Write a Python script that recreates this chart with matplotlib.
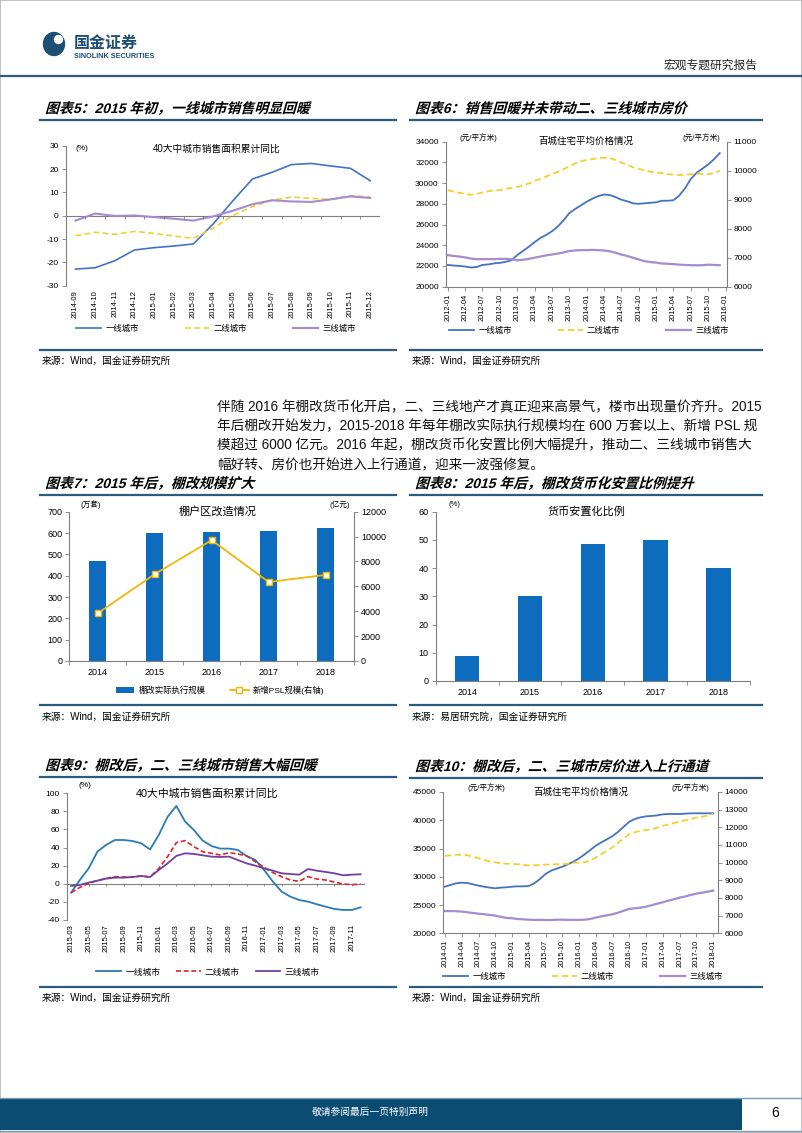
import numpy as np
import pandas as pd
import matplotlib
matplotlib.use('Agg')
import matplotlib.pyplot as plt
from matplotlib import patheffects
from matplotlib.transforms import Affine2D
from matplotlib.lines import Line2D
from matplotlib.patches import Rectangle, Ellipse

plt.rcParams['font.family'] = ['Liberation Sans', 'Noto Sans CJK SC']
plt.rcParams['axes.unicode_minus'] = False

# ---------------- data ----------------
tiers = ['一线城市', '二线城市', '三线城市']

# 图表5 40大中城市销售面积累计同比 (%)
c5_months = ['2014-09', '2014-10', '2014-11', '2014-12', '2015-01', '2015-02', '2015-03', '2015-04',
             '2015-05', '2015-06', '2015-07', '2015-08', '2015-09', '2015-10', '2015-11', '2015-12']
c5_t1 = [-22.9, -22.3, -19.3, -14.7, -13.7, -13.0, -12.1, -3.6, 6.3, 15.7, 18.6, 21.9, 22.4, 21.3, 20.3, 15.0]
c5_t2 = [-8.6, -7.1, -8.0, -6.7, -7.6, -8.7, -9.7, -5.4, 0.0, 3.9, 6.6, 8.0, 7.4, 7.0, 8.6, 8.0]
c5_t3 = [-2.1, 0.9, -0.1, 0.1, -0.6, -1.3, -2.1, -0.3, 2.1, 4.9, 6.6, 6.1, 5.9, 7.0, 8.3, 7.6]

# 图表6 百城住宅平均价格 2012-01 .. 2015-12 (元/平方米)
c6_t1 = [22100, 22050, 22000, 21950, 21850, 21900, 22100, 22150, 22250, 22300, 22400, 22550,
         23050, 23450, 23850, 24300, 24700, 25000, 25350, 25800, 26400, 27100, 27500, 27850,
         28200, 28500, 28750, 28900, 28850, 28650, 28400, 28250, 28050, 28000, 28050, 28100,
         28150, 28300, 28300, 28350, 28800, 29500, 30400, 31000, 31400, 31800, 32300, 32900]
c6_t2 = [9330, 9280, 9240, 9200, 9170, 9200, 9250, 9290, 9320, 9330, 9370, 9410,
         9440, 9490, 9560, 9640, 9720, 9800, 9880, 9960, 10050, 10150, 10250, 10330,
         10370, 10400, 10430, 10450, 10430, 10370, 10280, 10200, 10120, 10060, 10010, 9970,
         9940, 9920, 9880, 9860, 9850, 9860, 9880, 9900, 9890, 9880, 9920, 9990]
c6_t3 = [7090, 7060, 7040, 7010, 6970, 6950, 6950, 6950, 6950, 6960, 6960, 6950,
         6910, 6930, 6960, 7000, 7040, 7080, 7110, 7140, 7180, 7230, 7250, 7260,
         7260, 7270, 7260, 7250, 7220, 7170, 7110, 7060, 7000, 6940, 6880, 6850,
         6830, 6800, 6790, 6780, 6760, 6750, 6740, 6740, 6740, 6760, 6750, 6740]

# 图表7 棚户区改造情况
years = ['2014', '2015', '2016', '2017', '2018']
c7_units = [470, 600, 605, 608, 625]        # 万套
c7_psl = [3831, 6981, 9714, 6350, 6919]     # 亿元

# 图表8 货币安置化比例 (%)
c8_ratio = [9, 30, 48.5, 50, 40]

# 图表9 40大中城市销售面积累计同比 2015-03 .. 2017-12 (%)
c9_t1 = [-9.8, 4.2, 17.0, 35.5, 43.0, 48.4, 48.4, 47.3, 44.7, 38.0, 54.0, 74.0,
         86.0, 68.7, 59.4, 47.7, 41.8, 38.9, 38.9, 37.4, 30.8, 26.3, 15.3, 2.4,
         -8.7, -14.2, -17.9, -19.7, -22.6, -25.2, -27.8, -28.9, -28.9, -26.0]
c9_t2 = [-9.8, -4.0, 0.5, 3.5, 6.0, 7.9, 7.5, 7.5, 8.6, 7.5, 17.0, 30.0,
         45.5, 47.7, 41.0, 35.5, 33.7, 31.8, 34.4, 33.0, 30.8, 24.5, 18.2, 12.3,
         7.9, 4.2, 2.7, 7.9, 5.3, 4.2, 2.0, -0.2, -1.0, -0.2]
c9_t3 = [-2.4, -1.3, 1.3, 3.5, 5.7, 6.8, 6.8, 7.5, 8.6, 7.5, 15.3, 22.6,
         30.8, 33.7, 33.0, 31.5, 30.0, 29.6, 30.0, 26.3, 22.6, 20.0, 17.1, 14.5,
         11.6, 10.8, 10.1, 16.3, 14.5, 13.1, 11.6, 9.4, 10.1, 10.5]

# 图表10 百城住宅平均价格 2014-01 .. 2018-01 (元/平方米)
c10_t1 = [28250, 28550, 28850, 28960, 28900, 28670, 28430, 28250, 28080, 27960, 28080, 28140,
          28250, 28310, 28310, 28370, 28850, 29610, 30500, 31090, 31440, 31790, 32200, 32680,
          33270, 33970, 34740, 35500, 36100, 36630, 37220, 37980, 38870, 39750, 40230, 40520,
          40700, 40760, 40870, 41050, 41110, 41110, 41110, 41170, 41230, 41230, 41230, 41230, 41230]
c10_t2 = [10380, 10420, 10450, 10450, 10420, 10340, 10250, 10150, 10080, 10020, 9960, 9940,
          9930, 9910, 9870, 9850, 9850, 9870, 9890, 9900, 9910, 9910, 9940, 10000,
          10000, 10020, 10110, 10300, 10490, 10680, 10870, 11130, 11380, 11620, 11720, 11810,
          11850, 11890, 11980, 12080, 12170, 12250, 12320, 12400, 12470, 12550, 12600, 12660, 12760]
c10_t3 = [7260, 7260, 7250, 7230, 7190, 7150, 7110, 7080, 7040, 7000, 6930, 6870,
          6850, 6810, 6790, 6770, 6760, 6760, 6750, 6750, 6770, 6770, 6760, 6760,
          6760, 6770, 6810, 6890, 6960, 7020, 7080, 7170, 7280, 7380, 7420, 7450,
          7510, 7590, 7680, 7760, 7850, 7930, 8020, 8090, 8170, 8250, 8300, 8360, 8420]

c6_labels = [str(p) for p in pd.period_range('2012-01', '2016-01', freq='3M')]
c9_labels = [str(p) for p in pd.period_range('2015-03', '2017-12', freq='M')]
c10_labels = [str(p) for p in pd.period_range('2014-01', '2018-01', freq='3M')]

# ---------------- helpers ----------------
W, H = 802, 1133
fig = plt.figure(figsize=(W / 100, H / 100), dpi=100)

NAVY = '#2d5b7c'
GRAY = '#7f7f7f'
BLUE = '#4472c4'
YEL = '#f5cf2a'
PUR = '#a58bd0'
BAR = '#0e6cbf'


def fx(x):
    return x / W


def fy(y):
    return 1 - y / H


def add_ax(l, t, r, b):
    return fig.add_axes([fx(l), fy(b), (r - l) / W, (b - t) / H])


def ftext(x, y, s, **kw):
    kw.setdefault('va', 'center')
    return fig.text(fx(x), fy(y), s, **kw)


def hline(x0, x1, y, color=NAVY, lw=1.5):
    fig.add_artist(Line2D([fx(x0), fx(x1)], [fy(y), fy(y)], color=color, lw=lw))


class Italic(patheffects.AbstractPathEffect):
    # slant glyph outlines around their baseline (CJK fonts have no italic face)
    def draw_path(self, renderer, gc, tpath, affine, rgbFace=None):
        x0, y0 = affine.transform((0, 0))
        sk = Affine2D().translate(-x0, -y0).skew_deg(16, 0).translate(x0, y0)
        renderer.draw_path(gc, tpath, affine + sk, rgbFace)


def style(ax, right=False, size=6):
    ax.spines['top'].set_visible(False)
    ax.spines['right'].set_visible(right)
    for s in ax.spines.values():
        s.set_color(GRAY)
        s.set_linewidth(0.8)
    ax.tick_params(length=3, width=0.6, color=GRAY, labelsize=size, pad=2)
    ax.set_facecolor('none')


def legend(ax, handles, cx, cy, **kw):
    opts = dict(loc='center', bbox_to_anchor=(fx(cx), fy(cy)), bbox_transform=fig.transFigure,
                ncol=len(handles), frameon=False, fontsize=6, handlelength=3,
                handletextpad=0.5, columnspacing=5.5, borderpad=0)
    opts.update(kw)
    ax.legend(handles=handles, **opts)


def panel(x0, x1, ytitle, title, yline, ysrc, src):
    ftext(x0 + 5, ytitle, title, fontsize=10, fontweight='bold', path_effects=[Italic()])
    hline(x0, x1, ytitle + 10.5, lw=1.6)
    hline(x0, x1, yline, lw=1.6)
    ftext(x0 + 2, ysrc, src, fontsize=7)


# ---------------- page frame ----------------
fig.add_artist(Rectangle((0, 0), 1, 1, transform=fig.transFigure, fill=False, ec='#b5b5b5', lw=1.2))
fig.add_artist(Ellipse((fx(54), fy(44)), 21 / W, 23 / H, transform=fig.transFigure, color='#1d4f73'))
fig.add_artist(Ellipse((fx(58.5), fy(39.5)), 8 / W, 8 / H, transform=fig.transFigure, color='white'))
ftext(74, 43, '国金证券', fontsize=11.5, fontweight='bold', color='#1d4f73')
ftext(74, 56, 'SINOLINK SECURITIES', fontsize=5.2, fontweight='bold', color='#1d4f73')
ftext(757, 66, '宏观专题研究报告', fontsize=8.5, ha='right', color='#222222')
hline(0, W, 75.5, lw=1.6)

fig.add_artist(Rectangle((0, fy(1130)), fx(742), (1130 - 1098) / H, transform=fig.transFigure,
                         color='#0b4c72', lw=0))
hline(0, W, 1097.5, color='#7a9cb4', lw=1)
hline(0, W, 1131, color='#7a9cb4', lw=1)
ftext(370, 1112, '敬请参阅最后一页特别声明', fontsize=7, color='white', ha='center')
ftext(775, 1113, '6', fontsize=10, ha='center')

para = ['伴随 2016 年棚改货币化开启，二、三线地产才真正迎来高景气，楼市出现量价齐升。2015',
        '年后棚改开始发力，2015-2018 年每年棚改实际执行规模均在 600 万套以上、新增 PSL 规',
        '模超过 6000 亿元。2016 年起，棚改货币化安置比例大幅提升，推动二、三线城市销售大',
        '幅好转、房价也开始进入上行通道，迎来一波强修复。']
for i, line in enumerate(para):
    ftext(217, 407 + 19.3 * i, line, fontsize=9.8, color='#111111')

# ---------------- 图表5 ----------------
panel(40, 396, 109, '图表5：2015 年初，一线城市销售明显回暖', 350, 361, '来源：Wind，国金证券研究所')
ax = add_ax(65.7, 145.7, 380, 285.7)
style(ax)
x = np.arange(len(c5_months))
h1, = ax.plot(x, c5_t1, color=BLUE, lw=1.2, label=tiers[0])
h2, = ax.plot(x, c5_t2, color=YEL, lw=1.2, ls=(0, (3.5, 2)), label=tiers[1])
h3, = ax.plot(x, c5_t3, color=PUR, lw=1.5, label=tiers[2])
ax.set_xlim(-0.5, len(x) - 0.5)
ax.set_ylim(-30, 30)
ax.set_yticks(range(-30, 31, 10))
ax.spines['bottom'].set_visible(False)
ax.axhline(0, color=GRAY, lw=0.8, zorder=0)
ax.vlines(np.arange(-0.5, len(x)), 0, -1.3, color=GRAY, lw=0.6)
ax.set_xticks(x, c5_months, rotation=90, fontsize=5.5)
ax.tick_params(axis='x', length=0, pad=3)
ax.text(0.03, 0.98, '(%)', transform=ax.transAxes, fontsize=6, va='center')
ax.text(0.48, 0.98, '40大中城市销售面积累计同比', transform=ax.transAxes, fontsize=7, ha='center', va='center')
legend(ax, [h1, h2, h3], 216, 329)

# ---------------- 图表6 ----------------
panel(410, 762, 109, '图表6：销售回暖并未带动二、三线城市房价', 350, 361, '来源：Wind，国金证券研究所')
ax = add_ax(445.7, 141.7, 726.7, 286.7)
style(ax)
ax2 = ax.twinx()
style(ax2, right=True)
ax2.spines['left'].set_visible(False)
ax2.spines['bottom'].set_visible(False)
x = np.arange(len(c6_t1))
h1, = ax.plot(x, c6_t1, color=BLUE, lw=1.3, label=tiers[0])
h2, = ax2.plot(x, c6_t2, color=YEL, lw=1.3, ls=(0, (3.5, 2)), label=tiers[1])
h3, = ax2.plot(x, c6_t3, color=PUR, lw=1.6, label=tiers[2])
ax.set_xlim(-0.35, 48.2)
ax.set_ylim(20000, 34000)
ax.set_yticks(range(20000, 34001, 2000))
ax2.set_ylim(6000, 11000)
ax2.set_yticks(range(6000, 11001, 1000))
ax.set_xticks(np.arange(0, 49, 3), c6_labels, rotation=90, fontsize=5.3)
ax.text(0.05, 1.03, '(元/平方米)', transform=ax.transAxes, fontsize=5.5, va='center')
ax.text(0.91, 1.03, '(元/平方米)', transform=ax.transAxes, fontsize=5.5, va='center', ha='center')
ax.text(0.5, 1.0, '百城住宅平均价格情况', transform=ax.transAxes, fontsize=6.8, ha='center', va='center')
legend(ax2, [h1, h2, h3], 589, 331)

# ---------------- 图表7 ----------------
panel(40, 396, 484, '图表7：2015 年后，棚改规模扩大', 705, 717, '来源：Wind，国金证券研究所')
ax = add_ax(69.3, 511.7, 354, 661)
style(ax, size=6.5)
ax2 = ax.twinx()
style(ax2, right=True, size=6.5)
ax2.spines['left'].set_visible(False)
ax2.spines['bottom'].set_visible(False)
x = np.arange(len(years))
hb = ax.bar(x, c7_units, width=0.3, color=BAR, label='棚改实际执行规模')
hl, = ax2.plot(x, c7_psl, color='#f2b705', lw=1.3, marker='s', ms=4.5, mfc='white',
               mec='#f2b705', mew=1, label='新增PSL规模(右轴)')
ax.set_xlim(-0.5, 4.5)
ax.set_ylim(0, 700)
ax.set_yticks(range(0, 701, 100))
ax2.set_ylim(0, 12000)
ax2.set_yticks(range(0, 12001, 2000))
ax.set_xticks(x, years)
ax.set_xticks(np.arange(-0.5, 5), minor=True)
ax.tick_params(axis='x', which='major', length=0, pad=5)
ax.tick_params(axis='x', which='minor', length=3, width=0.6, color=GRAY)
ax.text(0.04, 1.05, '(万套)', transform=ax.transAxes, fontsize=5.5, va='center')
ax.text(0.95, 1.05, '(亿元)', transform=ax.transAxes, fontsize=5.5, va='center', ha='center')
ax.text(0.52, 1.0, '棚户区改造情况', transform=ax.transAxes, fontsize=8, ha='center', va='center')
legend(ax2, [hb, hl], 220, 690, handlelength=2.2, columnspacing=3, fontsize=6)

# ---------------- 图表8 ----------------
panel(410, 762, 484, '图表8：2015 年后，棚改货币化安置比例提升', 705, 717, '来源：易居研究院，国金证券研究所')
ax = add_ax(435.7, 511.7, 750, 681)
style(ax, size=6.5)
ax.bar(x, c8_ratio, width=0.39, color=BAR)
ax.set_xlim(-0.5, 4.5)
ax.set_ylim(0, 60)
ax.set_yticks(range(0, 61, 10))
ax.set_xticks(x, years)
ax.set_xticks(np.arange(-0.5, 5), minor=True)
ax.tick_params(axis='x', which='major', length=0, pad=5)
ax.tick_params(axis='x', which='minor', length=3, width=0.6, color=GRAY)
ax.text(0.04, 1.04, '(%)', transform=ax.transAxes, fontsize=5.5, va='center')
ax.text(0.48, 1.0, '货币安置化比例', transform=ax.transAxes, fontsize=8, ha='center', va='center')

# ---------------- 图表9 ----------------
panel(40, 396, 766, '图表9：棚改后，二、三线城市销售大幅回暖', 987, 998, '来源：Wind，国金证券研究所')
ax = add_ax(66.7, 793.3, 365, 920)
style(ax)
x = np.arange(len(c9_t1))
h1, = ax.plot(x, c9_t1, color='#2a7ab8', lw=1.3, label=tiers[0])
h2, = ax.plot(x, c9_t2, color='#e3202a', lw=1.2, ls=(0, (3, 1.6)), label=tiers[1])
h3, = ax.plot(x, c9_t3, color='#7040a0', lw=1.3, label=tiers[2])
ax.set_xlim(-0.5, len(x) - 0.5)
ax.set_ylim(-40, 100)
ax.set_yticks(range(-40, 101, 20))
ax.spines['bottom'].set_visible(False)
ax.axhline(0, color=GRAY, lw=0.8, zorder=0)
ax.vlines(np.arange(0, len(x), 2), 0, -2.8, color=GRAY, lw=0.6)
ax.set_xticks(x[::2], c9_labels[::2], rotation=90, fontsize=5.5)
ax.tick_params(axis='x', length=0, pad=3)
ax.text(0.04, 1.06, '(%)', transform=ax.transAxes, fontsize=6, va='center')
ax.text(0.47, 1.0, '40大中城市销售面积累计同比', transform=ax.transAxes, fontsize=7.8, ha='center', va='center')
legend(ax, [h1, h2, h3], 208, 972, fontsize=6.3, handlelength=2.8, columnspacing=1.8)

# ---------------- 图表10 ----------------
panel(410, 762, 767, '图表10：棚改后，二、三城市房价进入上行通道', 987, 998, '来源：Wind，国金证券研究所')
ax = add_ax(443.3, 792, 717.7, 933.3)
style(ax)
ax2 = ax.twinx()
style(ax2, right=True)
ax2.spines['left'].set_visible(False)
ax2.spines['bottom'].set_visible(False)
x = np.arange(len(c10_t1))
h1, = ax.plot(x, c10_t1, color=BLUE, lw=1.3, label=tiers[0])
h2, = ax2.plot(x, c10_t2, color=YEL, lw=1.3, ls=(0, (3.5, 2)), label=tiers[1])
h3, = ax2.plot(x, c10_t3, color=PUR, lw=1.6, label=tiers[2])
ax.set_xlim(-0.3, 48.8)
ax.set_ylim(20000, 45000)
ax.set_yticks(range(20000, 45001, 5000))
ax2.set_ylim(6000, 14000)
ax2.set_yticks(range(6000, 14001, 1000))
ax.set_xticks(np.arange(0, 49, 3), c10_labels, rotation=90, fontsize=5.3)
ax.text(0.09, 1.03, '(元/平方米)', transform=ax.transAxes, fontsize=5.5, va='center')
ax.text(0.90, 1.03, '(元/平方米)', transform=ax.transAxes, fontsize=5.5, va='center', ha='center')
ax.text(0.5, 1.0, '百城住宅平均价格情况', transform=ax.transAxes, fontsize=6.8, ha='center', va='center')
legend(ax2, [h1, h2, h3], 583, 977)

fig.savefig('out.png', dpi=100)
